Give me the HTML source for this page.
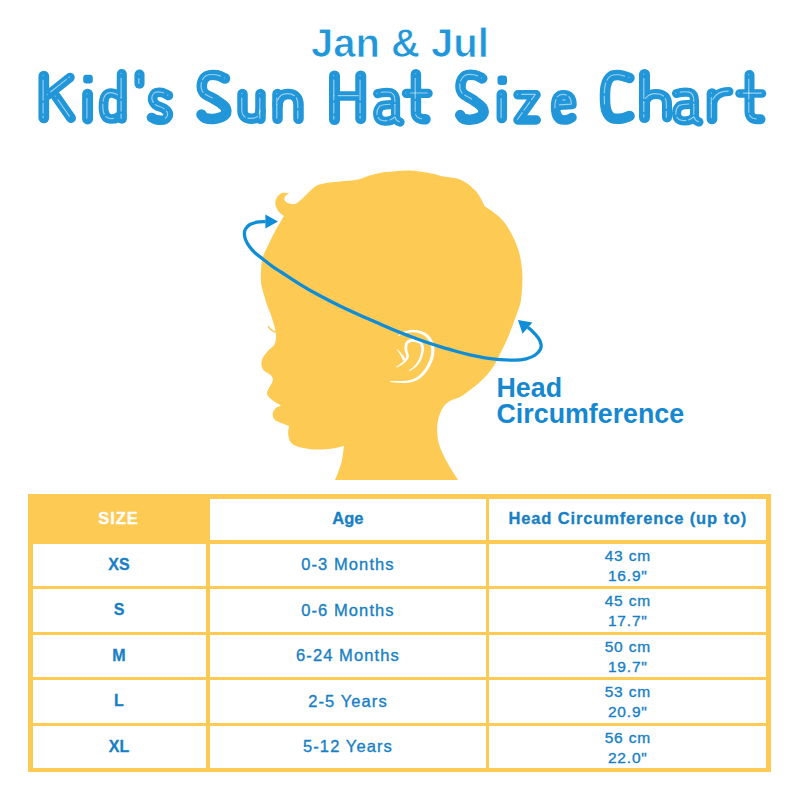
<!DOCTYPE html>
<html><head><meta charset="utf-8">
<style>
html,body{margin:0;padding:0;background:#fff;}
body{width:800px;height:800px;position:relative;overflow:hidden;font-family:"Liberation Sans",sans-serif;}
.abs{position:absolute;white-space:nowrap;}
#jan{left:311px;top:18.5px;font-size:40px;font-weight:bold;color:#2196d8;line-height:48px;-webkit-text-stroke:0.75px #fff;}
#hc{left:496.5px;top:374.5px;font-size:26.8px;font-weight:bold;color:#1688d0;line-height:26.25px;}
svg{position:absolute;left:0;top:0;}
.tb{position:absolute;background:#fdca54;}
.cell{position:absolute;text-align:center;color:#1780c4;white-space:nowrap;}
.hd{font-weight:bold;font-size:16.5px;-webkit-text-stroke:0.3px currentColor;}
.sz{font-weight:bold;font-size:16px;-webkit-text-stroke:0.3px currentColor;}
.ag{font-size:16.5px;letter-spacing:1.1px;-webkit-text-stroke:0.35px #1780c4;}
.ci{font-size:15.5px;letter-spacing:0.8px;line-height:20px;-webkit-text-stroke:0.35px #1780c4;}
</style></head><body>
<div id="jan" class="abs">Jan &amp; Jul</div>
<svg width="800" height="800" viewBox="0 0 800 800">
<g fill="none" stroke="#2196d8" stroke-linecap="round" stroke-linejoin="round"><path d="M43.8 76 L43.8 118" stroke-width="10.7"/><path d="M48 95 L70 77.5" stroke-width="9.5"/><path d="M56 96.5 L71 118" stroke-width="10.0"/><rect x="83.2" y="74.8" width="9.6" height="8.8" rx="3" fill="#2196d8" stroke="none"/><path d="M87.6 94.2 L87.6 119" stroke-width="10.9"/><path d="M121.8 74 L121.8 118.7" stroke-width="10.1"/><path d="M121.8 98 Q116 92.7 110.5 93 Q103.5 93.5 103.5 106.5 Q103.5 119 111.5 119 Q118 119 121.8 114" stroke-width="9.7"/><path d="M139.5 74.5 L139.5 83.8" stroke-width="10.1"/><path d="M168.4 95.5 C167.3 95.0 164.2 93.0 162.0 92.6 C159.8 92.2 157.1 91.9 155.5 93.0 C153.9 94.1 152.5 97.0 152.6 99.0 C152.7 101.0 154.1 103.4 156.0 105.0 C157.9 106.6 161.9 107.0 164.0 108.5 C166.1 110.0 168.2 112.2 168.4 114.0 C168.6 115.8 166.9 118.5 165.0 119.5 C163.1 120.5 159.2 120.2 157.0 119.9 C154.8 119.6 152.4 117.9 151.5 117.5" stroke-width="9.7"/><path d="M225.0 78.5 C223.7 78.0 220.0 75.7 217.0 75.2 C214.0 74.8 209.5 74.6 207.0 76.0 C204.5 77.4 202.5 80.7 202.0 83.5 C201.5 86.3 201.8 90.3 204.0 93.0 C206.2 95.7 211.5 97.2 215.0 99.5 C218.5 101.8 223.3 104.5 225.0 107.0 C226.7 109.5 226.9 112.5 225.2 114.5 C223.6 116.5 218.4 118.2 215.0 118.8 C211.6 119.3 207.2 118.7 205.0 118.0 C202.8 117.3 202.1 115.1 201.5 114.5" stroke-width="10.5"/><path d="M242.5 94 L242.5 110.5 Q242.5 118.75 251.5 118.75 Q260.5 118.75 260.5 110.5" stroke-width="10.5"/><path d="M260.5 94 L260.5 118.75" stroke-width="10.5"/><path d="M277.5 94 L277.5 118.75" stroke-width="10.5"/><path d="M277.5 105 Q278.5 94 288 94 Q298.5 94 298.5 105 L298.5 118.75" stroke-width="10.5"/><path d="M334.5 76 L334.5 119.5" stroke-width="11.0"/><path d="M360.75 76 L360.75 118.5" stroke-width="11.0"/><path d="M334.5 96 L360.75 96" stroke-width="9.5"/><g stroke-width="9.1"><g transform="translate(-298.9 0.2)"><path d="M676.5 93.5 Q683 91.5 690 92.5 Q694.5 94 694.5 101 L694.5 116 Q695 121 699 122"/><path d="M694.5 104.5 Q684 104 679.5 106 Q676.5 109 676.5 113.5 Q677 121 684.5 121 Q691 121 694.5 117"/></g></g><path d="M415.9 74.2 L415.9 112 Q416 119.2 424 119.2 L425.5 119.2" stroke-width="10.5"/><path d="M406.5 93.4 L428 93.4" stroke-width="9.4"/><path d="M482.2 78.4 C480.9 77.8 477.5 75.5 474.7 75.1 C471.9 74.7 467.7 74.4 465.4 75.8 C463.0 77.3 461.2 80.6 460.7 83.5 C460.2 86.4 460.5 90.5 462.6 93.2 C464.6 95.9 469.6 97.4 472.8 99.8 C476.1 102.2 480.6 104.9 482.2 107.4 C483.8 110.0 484.0 113.1 482.4 115.1 C480.8 117.1 476.0 118.8 472.8 119.4 C469.7 120.0 465.6 119.4 463.5 118.7 C461.4 117.9 460.8 115.7 460.2 115.1" stroke-width="10.5"/><rect x="497.5" y="75.4" width="9.5" height="9.6" rx="3" fill="#2196d8" stroke="none"/><path d="M501.8 94.5 L501.8 118" stroke-width="10.5"/><path d="M518 94.8 L536 94.8 L518 120 L536.2 120" stroke-width="9.5"/><path d="M555.6 105.5 L572 104.5 Q572 94.8 563.5 94.8 Q555.6 94.8 555.6 107 Q555.6 120 564 120 Q569 120 572 117.5" stroke-width="9.5"/><path d="M629.5 78.0 C627.9 77.5 623.1 75.5 620.0 75.2 C616.9 75.0 613.3 74.9 611.0 76.5 C608.7 78.1 607.0 81.2 606.0 85.0 C605.0 88.8 604.9 94.7 605.0 99.0 C605.1 103.3 605.3 107.8 606.5 111.0 C607.7 114.2 609.4 116.8 612.0 118.0 C614.6 119.2 619.1 118.8 622.0 118.5 C624.9 118.2 628.2 116.4 629.5 116.0" stroke-width="10.5"/><path d="M644.5 74.5 L644.5 117.5" stroke-width="11.0"/><path d="M644.5 103 Q647 94 656 94 Q667 94 667 104 L667 117.5" stroke-width="10.0"/><g stroke-width="9.1"><g transform="translate(0.0 0.0)"><path d="M676.5 93.5 Q683 91.5 690 92.5 Q694.5 94 694.5 101 L694.5 116 Q695 121 699 122"/><path d="M694.5 104.5 Q684 104 679.5 106 Q676.5 109 676.5 113.5 Q677 121 684.5 121 Q691 121 694.5 117"/></g></g><path d="M712 93.5 L712 119" stroke-width="10.7"/><path d="M712 104 Q715 91.5 729 91.5" stroke-width="9.0"/><path d="M749.5 75 L749.5 111 Q749.5 119.3 757 119.3 L760.5 119.3" stroke-width="10.0"/><path d="M739.5 93.5 L762 93.5" stroke-width="8.5"/></g><g fill="none" stroke="#fff" stroke-opacity="0.55" stroke-width="1.15" stroke-linecap="round" stroke-linejoin="round" stroke-dasharray="0 4.5 20 3 10 3 8 100" transform="translate(-0.7 -0.4)"><path d="M43.8 76 L43.8 118"/><path d="M48 95 L70 77.5"/><path d="M56 96.5 L71 118"/><path d="M87.6 94.2 L87.6 119"/><path d="M121.8 74 L121.8 118.7"/><path d="M121.8 98 Q116 92.7 110.5 93 Q103.5 93.5 103.5 106.5 Q103.5 119 111.5 119 Q118 119 121.8 114"/><path d="M139.5 74.5 L139.5 83.8"/><path d="M168.4 95.5 C167.3 95.0 164.2 93.0 162.0 92.6 C159.8 92.2 157.1 91.9 155.5 93.0 C153.9 94.1 152.5 97.0 152.6 99.0 C152.7 101.0 154.1 103.4 156.0 105.0 C157.9 106.6 161.9 107.0 164.0 108.5 C166.1 110.0 168.2 112.2 168.4 114.0 C168.6 115.8 166.9 118.5 165.0 119.5 C163.1 120.5 159.2 120.2 157.0 119.9 C154.8 119.6 152.4 117.9 151.5 117.5"/><path d="M225.0 78.5 C223.7 78.0 220.0 75.7 217.0 75.2 C214.0 74.8 209.5 74.6 207.0 76.0 C204.5 77.4 202.5 80.7 202.0 83.5 C201.5 86.3 201.8 90.3 204.0 93.0 C206.2 95.7 211.5 97.2 215.0 99.5 C218.5 101.8 223.3 104.5 225.0 107.0 C226.7 109.5 226.9 112.5 225.2 114.5 C223.6 116.5 218.4 118.2 215.0 118.8 C211.6 119.3 207.2 118.7 205.0 118.0 C202.8 117.3 202.1 115.1 201.5 114.5"/><path d="M242.5 94 L242.5 110.5 Q242.5 118.75 251.5 118.75 Q260.5 118.75 260.5 110.5"/><path d="M260.5 94 L260.5 118.75"/><path d="M277.5 94 L277.5 118.75"/><path d="M277.5 105 Q278.5 94 288 94 Q298.5 94 298.5 105 L298.5 118.75"/><path d="M334.5 76 L334.5 119.5"/><path d="M360.75 76 L360.75 118.5"/><path d="M334.5 96 L360.75 96"/><g transform="translate(-298.9 0.2)"><path d="M676.5 93.5 Q683 91.5 690 92.5 Q694.5 94 694.5 101 L694.5 116 Q695 121 699 122"/><path d="M694.5 104.5 Q684 104 679.5 106 Q676.5 109 676.5 113.5 Q677 121 684.5 121 Q691 121 694.5 117"/></g><path d="M415.9 74.2 L415.9 112 Q416 119.2 424 119.2 L425.5 119.2"/><path d="M406.5 93.4 L428 93.4"/><path d="M482.2 78.4 C480.9 77.8 477.5 75.5 474.7 75.1 C471.9 74.7 467.7 74.4 465.4 75.8 C463.0 77.3 461.2 80.6 460.7 83.5 C460.2 86.4 460.5 90.5 462.6 93.2 C464.6 95.9 469.6 97.4 472.8 99.8 C476.1 102.2 480.6 104.9 482.2 107.4 C483.8 110.0 484.0 113.1 482.4 115.1 C480.8 117.1 476.0 118.8 472.8 119.4 C469.7 120.0 465.6 119.4 463.5 118.7 C461.4 117.9 460.8 115.7 460.2 115.1"/><path d="M501.8 94.5 L501.8 118"/><path d="M518 94.8 L536 94.8 L518 120 L536.2 120"/><path d="M555.6 105.5 L572 104.5 Q572 94.8 563.5 94.8 Q555.6 94.8 555.6 107 Q555.6 120 564 120 Q569 120 572 117.5"/><path d="M629.5 78.0 C627.9 77.5 623.1 75.5 620.0 75.2 C616.9 75.0 613.3 74.9 611.0 76.5 C608.7 78.1 607.0 81.2 606.0 85.0 C605.0 88.8 604.9 94.7 605.0 99.0 C605.1 103.3 605.3 107.8 606.5 111.0 C607.7 114.2 609.4 116.8 612.0 118.0 C614.6 119.2 619.1 118.8 622.0 118.5 C624.9 118.2 628.2 116.4 629.5 116.0"/><path d="M644.5 74.5 L644.5 117.5"/><path d="M644.5 103 Q647 94 656 94 Q667 94 667 104 L667 117.5"/><g transform="translate(0.0 0.0)"><path d="M676.5 93.5 Q683 91.5 690 92.5 Q694.5 94 694.5 101 L694.5 116 Q695 121 699 122"/><path d="M694.5 104.5 Q684 104 679.5 106 Q676.5 109 676.5 113.5 Q677 121 684.5 121 Q691 121 694.5 117"/></g><path d="M712 93.5 L712 119"/><path d="M712 104 Q715 91.5 729 91.5"/><path d="M749.5 75 L749.5 111 Q749.5 119.3 757 119.3 L760.5 119.3"/><path d="M739.5 93.5 L762 93.5"/></g>
<path d="M289.0 193.0 C288.3 193.6 285.8 195.3 285.0 196.5 C284.2 197.7 284.0 198.9 284.5 200.0 C285.0 201.1 286.2 202.3 288.0 203.0 C289.8 203.7 292.7 204.7 295.0 204.0 C297.3 203.3 299.7 201.0 302.0 199.0 C304.3 197.0 306.7 194.2 309.0 192.0 C311.3 189.8 313.5 187.4 316.0 186.0 C318.5 184.6 321.3 184.1 324.0 183.5 C326.7 182.9 328.5 182.7 332.0 182.3 C335.5 181.9 340.7 181.5 345.0 181.0 C349.3 180.5 354.1 180.4 358.0 179.5 C361.9 178.6 365.0 176.8 368.7 175.7 C372.4 174.6 376.5 173.7 380.0 173.0 C383.5 172.3 385.0 172.2 389.7 171.8 C394.4 171.4 401.4 170.3 408.0 170.5 C414.6 170.7 423.3 172.0 429.0 173.0 C434.7 174.0 439.8 175.8 442.0 176.3  C445.1 176.9 455.3 177.6 460.6 179.7 C465.9 181.8 470.5 186.0 473.7 188.9 C476.9 191.8 478.2 194.2 480.0 197.0 C481.8 199.8 483.8 204.5 484.5 206.0  C486.6 207.5 493.8 212.3 497.0 215.0 C500.2 217.7 501.8 219.3 504.0 222.0 C506.2 224.7 508.2 227.8 510.0 231.0 C511.8 234.2 513.5 237.5 515.0 241.0 C516.5 244.5 517.9 248.0 519.0 252.0 C520.1 256.0 520.9 260.3 521.5 265.0 C522.1 269.7 522.5 274.2 522.4 280.0 C522.3 285.8 521.8 294.7 521.0 300.0 C520.2 305.3 518.6 308.7 517.5 312.0 C516.4 315.3 515.8 316.8 514.6 320.0 C513.4 323.2 512.0 327.2 510.5 331.0 C509.0 334.8 507.4 339.0 505.6 342.8 C503.9 346.6 501.9 350.2 500.0 354.0 C498.1 357.8 496.5 361.8 494.3 365.3 C492.1 368.8 489.6 372.0 487.0 375.0 C484.4 378.0 481.4 380.8 478.6 383.3 C475.8 385.8 473.0 387.8 470.0 390.0 C467.0 392.2 463.9 394.9 460.5 396.8 C457.1 398.7 452.5 399.1 449.3 401.3 C446.1 403.6 443.4 406.2 441.4 410.3 C439.4 414.4 437.6 420.4 437.2 426.0 C436.8 431.6 437.4 438.0 439.0 444.0 C440.6 450.0 443.8 456.0 447.0 462.0 C450.2 468.0 456.2 477.0 458.0 480.0  C437.5 480.0 355.5 480.0 335.0 480.0  C335.7 478.3 337.8 473.3 339.0 470.0 C340.2 466.7 341.2 464.0 342.0 460.0 C342.8 456.0 343.7 448.3 344.0 446.0  C341.9 446.4 336.1 448.1 331.3 448.7 C326.5 449.3 320.4 449.8 315.0 449.5 C309.6 449.2 302.9 448.2 298.8 447.0 C294.7 445.8 292.4 444.4 290.6 442.2 C288.8 440.0 288.5 436.7 288.2 434.0 C287.9 431.3 288.9 427.3 289.0 426.0  C287.9 425.6 284.9 424.6 282.5 423.5 C280.1 422.4 276.0 421.1 274.4 419.4 C272.8 417.6 272.5 414.9 272.8 413.0 C273.1 411.1 274.6 409.2 276.0 408.0 C277.4 406.8 280.1 406.0 280.9 405.6  C279.8 404.9 276.4 403.0 274.4 401.5 C272.4 400.0 269.9 398.2 268.7 396.7 C267.5 395.2 266.9 394.2 267.0 392.6 C267.1 391.0 268.5 388.9 269.5 386.9 C270.5 384.9 272.5 382.3 272.8 380.4 C273.1 378.5 272.6 377.1 271.1 375.5 C269.6 373.9 265.4 372.5 263.8 370.6 C262.2 368.7 261.5 366.2 261.4 364.0 C261.3 361.8 261.9 359.8 263.0 357.6 C264.1 355.4 266.0 353.2 267.9 351.0 C269.8 348.8 273.0 346.9 274.4 344.6 C275.8 342.3 275.8 339.3 276.0 337.0 C276.2 334.7 275.8 333.0 275.5 331.0 C275.2 329.0 274.8 327.7 274.0 325.0 C273.2 322.3 272.2 318.3 271.0 315.0 C269.8 311.7 268.2 308.3 267.0 305.0 C265.8 301.7 265.0 298.5 264.0 295.0 C263.0 291.5 261.7 287.8 261.2 284.0 C260.7 280.2 260.8 276.3 261.0 272.0 C261.2 267.7 261.3 262.4 262.5 258.0 C263.7 253.6 265.8 250.1 268.0 245.5 C270.2 240.9 272.8 235.4 275.5 230.5 C278.2 225.6 282.6 218.4 284.0 216.0  C283.2 215.3 280.4 213.8 279.0 212.0 C277.6 210.2 275.9 207.3 275.5 205.0 C275.1 202.7 275.4 200.0 276.5 198.0 C277.6 196.0 279.9 193.8 282.0 193.0 C284.1 192.2 287.8 193.0 289.0 193.0 Z" fill="#fdca54"/>
<path d="M268.5 326.5 Q270.5 330.5 275.5 332" fill="none" stroke="#fdca54" stroke-width="1.6" stroke-linecap="round"/>
<g fill="#fff"><path d="M398.63 335.96 L398.95 335.99 L399.25 335.88 L399.57 335.73 L399.92 335.55 L400.28 335.35 L400.68 335.14 L401.09 334.92 L401.51 334.70 L401.95 334.49 L402.40 334.29 L402.86 334.11 L403.33 333.95 L403.83 333.79 L404.38 333.63 L404.96 333.47 L405.56 333.31 L406.19 333.16 L406.82 333.01 L407.47 332.87 L408.12 332.74 L408.76 332.63 L409.40 332.54 L410.02 332.47 L410.62 332.41 L411.22 332.38 L411.82 332.36 L412.43 332.35 L413.03 332.36 L413.64 332.38 L414.24 332.41 L414.84 332.46 L415.43 332.52 L416.02 332.60 L416.60 332.69 L417.16 332.80 L417.72 332.92 L418.28 333.06 L418.84 333.21 L419.39 333.37 L419.94 333.55 L420.48 333.74 L421.01 333.94 L421.53 334.16 L422.04 334.40 L422.54 334.64 L423.02 334.91 L423.49 335.19 L423.94 335.48 L424.39 335.80 L424.85 336.14 L425.29 336.50 L425.73 336.87 L426.16 337.26 L426.57 337.66 L426.97 338.07 L427.35 338.50 L427.71 338.94 L428.06 339.39 L428.38 339.85 L428.68 340.32 L428.96 340.81 L429.23 341.32 L429.48 341.85 L429.73 342.39 L429.95 342.96 L430.16 343.53 L430.35 344.12 L430.52 344.72 L430.67 345.34 L430.81 345.96 L430.92 346.58 L431.02 347.21 L431.09 347.86 L431.15 348.53 L431.18 349.22 L431.20 349.93 L431.20 350.66 L431.18 351.39 L431.14 352.12 L431.08 352.86 L431.00 353.58 L430.91 354.30 L430.81 355.01 L430.68 355.69 L430.55 356.36 L430.39 357.02 L430.21 357.68 L430.02 358.32 L429.81 358.97 L429.58 359.62 L429.33 360.27 L429.07 360.91 L428.79 361.57 L428.49 362.22 L428.18 362.89 L427.86 363.55 L427.52 364.23 L427.16 364.92 L426.79 365.61 L426.40 366.31 L425.99 367.01 L425.57 367.71 L425.14 368.39 L424.70 369.07 L424.25 369.72 L423.80 370.36 L423.34 370.97 L422.87 371.55 L422.39 372.12 L421.90 372.68 L421.41 373.23 L420.90 373.76 L420.39 374.28 L419.86 374.78 L419.33 375.26 L418.79 375.72 L418.24 376.16 L417.69 376.58 L417.13 376.97 L416.56 377.34 L415.97 377.69 L415.38 378.02 L414.77 378.34 L414.16 378.63 L413.53 378.90 L412.89 379.16 L412.23 379.40 L411.57 379.62 L410.89 379.82 L410.20 380.01 L409.50 380.19 L408.79 380.35 L408.07 380.49 L407.33 380.60 L406.56 380.69 L405.77 380.76 L404.97 380.82 L404.15 380.86 L403.33 380.89 L402.50 380.91 L401.68 380.93 L400.86 380.95 L400.05 380.97 L399.26 380.99 L398.46 381.01 L397.63 381.02 L396.77 381.02 L395.90 381.02 L395.03 381.01 L394.18 381.01 L393.36 381.00 L392.59 381.00 L391.88 381.01 L391.25 381.03 L390.71 381.08 L390.26 381.25 L390.24 381.75 L390.66 381.96 L391.19 382.07 L391.81 382.17 L392.52 382.27 L393.28 382.36 L394.10 382.44 L394.95 382.52 L395.83 382.60 L396.71 382.67 L397.58 382.73 L398.43 382.78 L399.24 382.81 L400.04 382.84 L400.84 382.87 L401.66 382.90 L402.50 382.93 L403.34 382.95 L404.19 382.97 L405.04 382.97 L405.89 382.95 L406.74 382.91 L407.58 382.85 L408.40 382.77 L409.21 382.65 L409.99 382.51 L410.76 382.36 L411.52 382.18 L412.27 381.99 L413.01 381.78 L413.74 381.54 L414.46 381.29 L415.18 381.01 L415.88 380.71 L416.58 380.38 L417.27 380.03 L417.94 379.66 L418.61 379.25 L419.27 378.82 L419.91 378.37 L420.54 377.89 L421.16 377.40 L421.76 376.88 L422.35 376.35 L422.93 375.79 L423.50 375.23 L424.05 374.65 L424.60 374.05 L425.13 373.45 L425.66 372.81 L426.18 372.15 L426.69 371.47 L427.19 370.77 L427.67 370.05 L428.15 369.32 L428.61 368.59 L429.05 367.85 L429.47 367.12 L429.88 366.38 L430.27 365.66 L430.64 364.95 L430.99 364.24 L431.33 363.54 L431.65 362.84 L431.96 362.14 L432.26 361.44 L432.54 360.72 L432.80 360.01 L433.04 359.29 L433.27 358.56 L433.47 357.82 L433.65 357.07 L433.82 356.31 L433.96 355.53 L434.08 354.75 L434.18 353.95 L434.27 353.14 L434.33 352.33 L434.37 351.52 L434.40 350.71 L434.40 349.90 L434.38 349.10 L434.34 348.31 L434.27 347.54 L434.18 346.79 L434.07 346.05 L433.93 345.32 L433.76 344.60 L433.58 343.89 L433.37 343.19 L433.14 342.50 L432.89 341.82 L432.62 341.16 L432.33 340.52 L432.01 339.89 L431.68 339.28 L431.32 338.68 L430.94 338.10 L430.53 337.54 L430.10 337.00 L429.65 336.47 L429.18 335.97 L428.70 335.49 L428.20 335.02 L427.69 334.58 L427.17 334.16 L426.64 333.76 L426.10 333.38 L425.56 333.02 L425.00 332.67 L424.42 332.35 L423.83 332.06 L423.24 331.78 L422.63 331.53 L422.02 331.29 L421.40 331.08 L420.78 330.89 L420.16 330.71 L419.53 330.55 L418.90 330.41 L418.28 330.28 L417.64 330.17 L416.99 330.07 L416.34 330.00 L415.68 329.94 L415.02 329.90 L414.35 329.88 L413.69 329.87 L413.02 329.88 L412.36 329.91 L411.70 329.95 L411.04 330.01 L410.38 330.09 L409.71 330.18 L409.03 330.30 L408.35 330.44 L407.66 330.60 L406.98 330.78 L406.30 330.97 L405.64 331.17 L404.99 331.37 L404.37 331.59 L403.77 331.81 L403.21 332.03 L402.67 332.25 L402.15 332.49 L401.65 332.76 L401.17 333.05 L400.71 333.34 L400.28 333.64 L399.89 333.94 L399.52 334.23 L399.19 334.51 L398.91 334.78 L398.66 335.02 L398.47 335.25 L398.37 335.54 Z"/><path d="M409.15 371.20 L409.54 371.14 L409.95 370.94 L410.43 370.69 L410.95 370.39 L411.52 370.05 L412.11 369.68 L412.72 369.29 L413.34 368.88 L413.95 368.45 L414.54 368.01 L415.09 367.56 L415.60 367.11 L416.07 366.67 L416.53 366.22 L416.98 365.76 L417.41 365.28 L417.84 364.79 L418.25 364.29 L418.66 363.77 L419.05 363.25 L419.43 362.71 L419.79 362.16 L420.14 361.59 L420.48 361.01 L420.80 360.41 L421.11 359.78 L421.40 359.13 L421.68 358.47 L421.94 357.80 L422.19 357.13 L422.42 356.46 L422.64 355.79 L422.84 355.13 L423.02 354.49 L423.19 353.87 L423.34 353.28 L423.47 352.70 L423.59 352.13 L423.70 351.56 L423.79 351.01 L423.87 350.46 L423.93 349.91 L423.97 349.37 L423.99 348.84 L424.00 348.31 L423.98 347.79 L423.93 347.27 L423.86 346.76 L423.78 346.27 L423.67 345.78 L423.54 345.30 L423.39 344.82 L423.22 344.35 L423.02 343.88 L422.79 343.42 L422.53 342.98 L422.25 342.55 L421.93 342.14 L421.58 341.75 L421.19 341.39 L420.76 341.05 L420.30 340.74 L419.81 340.47 L419.31 340.24 L418.80 340.03 L418.28 339.84 L417.75 339.67 L417.23 339.53 L416.71 339.40 L416.20 339.29 L415.70 339.20 L415.21 339.12 L414.72 339.06 L414.21 339.01 L413.70 338.98 L413.19 338.97 L412.67 338.97 L412.16 339.00 L411.64 339.04 L411.14 339.11 L410.64 339.19 L410.15 339.30 L409.67 339.44 L409.21 339.61 L408.78 339.79 L408.37 339.98 L407.97 340.21 L407.57 340.45 L407.19 340.72 L406.81 341.02 L406.46 341.35 L406.12 341.71 L405.81 342.09 L405.52 342.51 L405.27 342.96 L405.05 343.44 L404.87 343.96 L404.73 344.50 L404.63 345.05 L404.55 345.61 L404.50 346.18 L404.47 346.75 L404.46 347.33 L404.47 347.91 L404.49 348.48 L404.53 349.04 L404.57 349.59 L404.62 350.15 L404.71 350.74 L404.84 351.34 L405.00 351.92 L405.18 352.48 L405.37 353.03 L405.56 353.56 L405.73 354.07 L405.90 354.54 L406.03 354.98 L406.14 355.38 L406.20 355.72 L406.23 356.02 L406.23 356.31 L406.22 356.58 L406.19 356.83 L406.14 357.07 L406.07 357.29 L405.99 357.52 L405.89 357.75 L405.78 357.99 L405.64 358.25 L405.47 358.52 L405.29 358.81 L405.10 359.11 L404.91 359.41 L404.70 359.71 L404.47 360.01 L404.23 360.31 L403.98 360.61 L403.70 360.92 L403.41 361.23 L403.11 361.54 L402.79 361.86 L402.45 362.18 L402.10 362.50 L401.73 362.81 L401.33 363.14 L400.86 363.50 L400.34 363.87 L399.80 364.25 L399.23 364.64 L398.66 365.02 L398.11 365.40 L397.58 365.76 L397.10 366.10 L396.67 366.41 L396.33 366.70 L396.12 367.04 L396.38 367.46 L396.77 367.44 L397.18 367.27 L397.66 367.06 L398.20 366.80 L398.77 366.51 L399.37 366.20 L399.98 365.87 L400.59 365.53 L401.19 365.18 L401.76 364.84 L402.29 364.51 L402.77 364.19 L403.20 363.88 L403.61 363.57 L404.01 363.27 L404.39 362.96 L404.76 362.64 L405.11 362.33 L405.45 362.01 L405.77 361.69 L406.07 361.37 L406.37 361.04 L406.64 360.71 L406.90 360.39 L407.13 360.08 L407.36 359.78 L407.57 359.48 L407.78 359.18 L407.98 358.85 L408.16 358.51 L408.33 358.15 L408.47 357.77 L408.59 357.36 L408.68 356.93 L408.74 356.47 L408.77 355.98 L408.75 355.43 L408.67 354.88 L408.55 354.33 L408.41 353.79 L408.25 353.25 L408.08 352.72 L407.92 352.19 L407.76 351.68 L407.62 351.19 L407.51 350.72 L407.42 350.28 L407.38 349.85 L407.35 349.39 L407.32 348.89 L407.30 348.38 L407.30 347.87 L407.30 347.37 L407.32 346.87 L407.36 346.40 L407.41 345.95 L407.47 345.53 L407.55 345.16 L407.64 344.83 L407.75 344.56 L407.87 344.31 L408.01 344.08 L408.16 343.86 L408.33 343.66 L408.52 343.46 L408.73 343.28 L408.95 343.11 L409.20 342.94 L409.45 342.79 L409.72 342.65 L410.01 342.51 L410.29 342.39 L410.58 342.29 L410.88 342.21 L411.22 342.13 L411.58 342.07 L411.96 342.02 L412.36 341.99 L412.76 341.97 L413.17 341.97 L413.58 341.98 L413.99 342.00 L414.40 342.03 L414.79 342.08 L415.20 342.14 L415.62 342.22 L416.06 342.31 L416.49 342.41 L416.92 342.52 L417.35 342.65 L417.75 342.79 L418.13 342.94 L418.49 343.10 L418.80 343.27 L419.08 343.44 L419.31 343.61 L419.52 343.80 L419.73 344.02 L419.92 344.26 L420.11 344.52 L420.28 344.80 L420.44 345.11 L420.59 345.43 L420.73 345.77 L420.85 346.12 L420.96 346.48 L421.05 346.86 L421.14 347.24 L421.20 347.61 L421.25 348.00 L421.28 348.41 L421.29 348.83 L421.29 349.26 L421.28 349.71 L421.24 350.18 L421.19 350.66 L421.13 351.15 L421.06 351.66 L420.97 352.19 L420.86 352.72 L420.75 353.28 L420.61 353.87 L420.46 354.48 L420.30 355.10 L420.12 355.73 L419.93 356.37 L419.72 357.01 L419.50 357.64 L419.27 358.26 L419.03 358.86 L418.78 359.44 L418.52 359.99 L418.25 360.52 L417.96 361.05 L417.66 361.57 L417.34 362.09 L417.01 362.59 L416.67 363.09 L416.32 363.57 L415.95 364.05 L415.57 364.53 L415.19 364.99 L414.79 365.44 L414.40 365.89 L413.97 366.32 L413.50 366.77 L412.98 367.22 L412.44 367.68 L411.88 368.13 L411.33 368.57 L410.78 368.99 L410.27 369.39 L409.80 369.77 L409.39 370.11 L409.05 370.44 L408.85 370.80 Z"/><path d="M396.77 349.44 L396.89 349.64 L397.04 349.90 L397.23 350.19 L397.45 350.51 L397.69 350.86 L397.94 351.23 L398.20 351.61 L398.47 352.00 L398.73 352.38 L398.97 352.75 L399.21 353.11 L399.42 353.44 L399.61 353.76 L399.81 354.08 L400.00 354.40 L400.18 354.71 L400.36 355.01 L400.54 355.32 L400.72 355.63 L400.88 355.93 L401.05 356.23 L401.21 356.53 L401.37 356.83 L401.52 357.13 L401.67 357.43 L401.82 357.76 L401.98 358.10 L402.14 358.45 L402.30 358.80 L402.45 359.14 L402.59 359.47 L402.72 359.79 L402.84 360.09 L402.95 360.35 L403.04 360.59 L403.11 360.78 L405.89 359.22 L405.77 359.07 L405.63 358.88 L405.46 358.65 L405.28 358.39 L405.08 358.10 L404.87 357.80 L404.64 357.47 L404.42 357.15 L404.18 356.81 L403.95 356.49 L403.71 356.17 L403.48 355.87 L403.26 355.59 L403.03 355.31 L402.79 355.03 L402.56 354.76 L402.32 354.48 L402.08 354.21 L401.84 353.94 L401.60 353.66 L401.35 353.39 L401.10 353.11 L400.84 352.84 L400.58 352.56 L400.31 352.26 L400.01 351.94 L399.70 351.60 L399.39 351.26 L399.06 350.92 L398.75 350.58 L398.44 350.26 L398.14 349.95 L397.87 349.67 L397.62 349.43 L397.41 349.22 L397.23 349.06 Z"/></g>
<path d="M265.5 221.5 C264.0 221.6 259.3 221.8 256.8 222.2 C254.2 222.8 251.9 223.4 250.0 224.5 C248.1 225.6 246.4 227.5 245.5 229.0 C244.6 230.5 244.4 231.8 244.4 233.5 C244.4 235.2 244.7 237.4 245.5 239.5 C246.3 241.6 247.6 244.0 249.2 246.2 C250.9 248.5 253.0 250.9 255.2 253.0 C257.5 255.1 259.9 256.8 262.8 259.0 C265.6 261.2 269.5 264.3 272.5 266.5 C275.5 268.7 276.4 269.0 281.0 272.0 C285.6 275.0 293.5 280.3 300.0 284.3 C306.5 288.3 313.3 292.2 320.0 295.8 C326.7 299.4 333.3 302.8 340.0 306.0 C346.7 309.2 353.3 312.3 360.0 315.3 C366.7 318.3 374.2 321.5 380.0 324.0 C385.8 326.5 390.0 328.4 395.0 330.5 C400.0 332.6 405.0 334.4 410.0 336.3 C415.0 338.2 420.0 340.1 425.0 341.8 C430.0 343.5 435.0 345.1 440.0 346.6 C445.0 348.1 450.0 349.6 455.0 351.0 C460.0 352.4 465.0 353.7 470.0 354.8 C475.0 355.9 480.0 357.0 485.0 357.8 C490.0 358.6 495.0 359.2 500.0 359.6 C505.0 360.0 510.6 360.3 515.0 360.2 C519.4 360.1 522.9 359.6 526.2 358.8 C529.6 357.9 532.9 356.6 535.2 355.0 C537.6 353.4 539.6 350.9 540.5 349.0 C541.4 347.1 541.3 345.6 540.9 343.8 C540.5 341.9 539.6 339.8 538.2 337.8 C536.9 335.8 534.7 333.5 533.0 331.8 C531.3 330.0 528.8 328.2 528.0 327.5" fill="none" stroke="#0f8dd6" stroke-width="3.3" stroke-linecap="butt"/>
<polygon points="278,221.5 265.4,214.4 265.4,228.4" fill="#0f8dd6"/>
<polygon points="518,320.1 532.4,322.6 522.5,333.8" fill="#0f8dd6"/>
</svg>
<div id="hc" class="abs">Head<br>Circumference</div>
<div class="tb" style="left:28px;top:494px;width:742.6px;height:278px;"></div>
<div class="abs" style="left:32.5px;top:544px;width:173px;height:223.5px;background:#fff"></div>
<div class="abs" style="left:209.7px;top:498.5px;width:276.5px;height:269px;background:#fff"></div>
<div class="abs" style="left:489.3px;top:498.5px;width:277px;height:269px;background:#fff"></div>
<div class="tb" style="left:209.7px;top:540px;width:557px;height:4px;"></div>
<div class="tb" style="left:486.2px;top:498.5px;width:3.1px;height:269px;"></div>
<div class="tb" style="left:32.5px;top:586px;width:734px;height:3px;"></div>
<div class="tb" style="left:32.5px;top:631.5px;width:734px;height:3px;"></div>
<div class="tb" style="left:32.5px;top:677px;width:734px;height:3px;"></div>
<div class="tb" style="left:32.5px;top:722.5px;width:734px;height:3px;"></div>
<div class="cell hd" style="left:28px;top:509px;width:181px;color:#fff;letter-spacing:1px">SIZE</div>
<div class="cell hd" style="left:209.7px;top:509px;width:276.5px;">Age</div>
<div class="cell hd" style="left:489.3px;top:509px;width:277px;letter-spacing:0.85px">Head Circumference (up to)</div>
<div class="cell sz" style="left:32.5px;top:555.5px;width:173px;">XS</div>
<div class="cell ag" style="left:209.7px;top:555.0px;width:276.5px;">0-3 Months</div>
<div class="cell ci" style="left:489.3px;top:545.5px;width:277px;">43 cm<br>16.9&quot;</div>
<div class="cell sz" style="left:32.5px;top:601.0px;width:173px;">S</div>
<div class="cell ag" style="left:209.7px;top:600.5px;width:276.5px;">0-6 Months</div>
<div class="cell ci" style="left:489.3px;top:591.0px;width:277px;">45 cm<br>17.7&quot;</div>
<div class="cell sz" style="left:32.5px;top:646.5px;width:173px;">M</div>
<div class="cell ag" style="left:209.7px;top:646.0px;width:276.5px;">6-24 Months</div>
<div class="cell ci" style="left:489.3px;top:636.5px;width:277px;">50 cm<br>19.7&quot;</div>
<div class="cell sz" style="left:32.5px;top:692.0px;width:173px;">L</div>
<div class="cell ag" style="left:209.7px;top:691.5px;width:276.5px;">2-5 Years</div>
<div class="cell ci" style="left:489.3px;top:682.0px;width:277px;">53 cm<br>20.9&quot;</div>
<div class="cell sz" style="left:32.5px;top:737.5px;width:173px;">XL</div>
<div class="cell ag" style="left:209.7px;top:737.0px;width:276.5px;">5-12 Years</div>
<div class="cell ci" style="left:489.3px;top:727.5px;width:277px;">56 cm<br>22.0&quot;</div>
</body></html>
